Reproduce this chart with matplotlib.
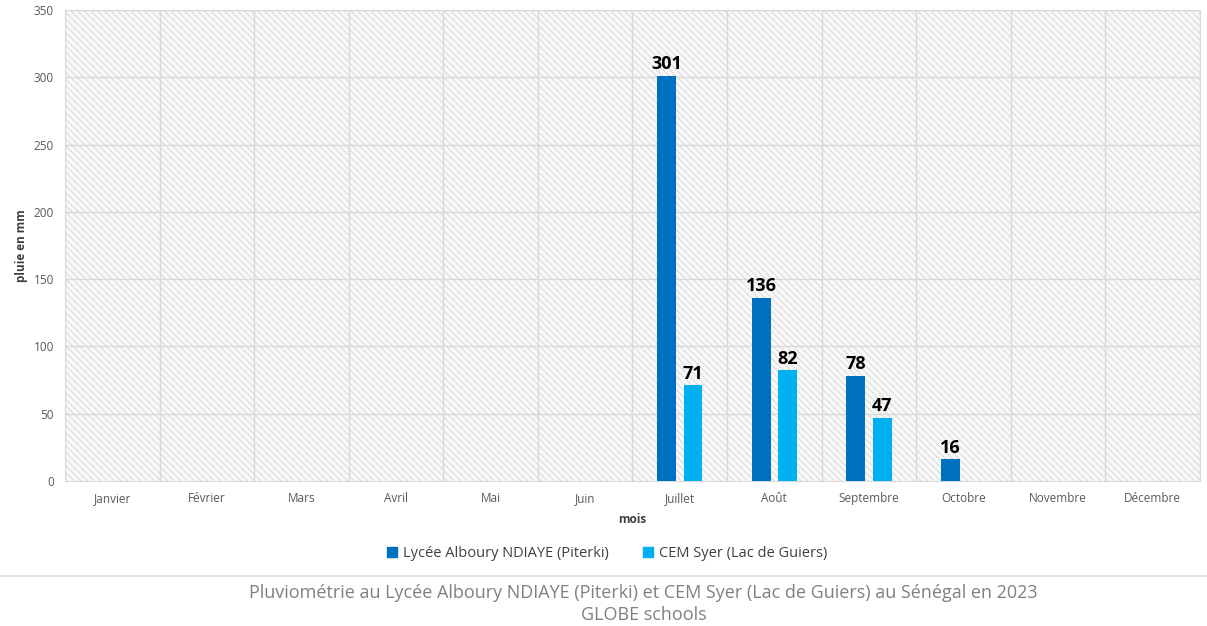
import matplotlib.pyplot as plt
import matplotlib.patches as mpatches
import numpy as np

plt.rcParams['font.family'] = ['Open Sans', 'DejaVu Sans']
plt.rcParams['hatch.linewidth'] = 0.6

months = ["Janvier", "Février", "Mars", "Avril", "Mai", "Juin", "Juillet",
          "Août", "Septembre", "Octobre", "Novembre", "Décembre"]
piterki = [0, 0, 0, 0, 0, 0, 301, 136, 78, 16, 0, 0]
syer = [0, 0, 0, 0, 0, 0, 71, 82, 47, 0, 0, 0]

series_names = ["Lycée Alboury NDIAYE (Piterki)", "CEM Syer (Lac de Guiers)"]
colors = ["#0070C0", "#00B0F0"]

fig = plt.figure(figsize=(12.07, 6.26), dpi=100)
ax = fig.add_axes([0.054, 0.232, 0.940, 0.752])

x = np.arange(len(months))
width = 0.2
offsets = [-0.14, 0.14]

# striped plot background
ax.set_facecolor("#f8f8f8")
bg = mpatches.Rectangle((0, 0), 1, 1, transform=ax.transAxes, facecolor="none",
                        edgecolor="#d4d4d4", hatch="\\" * 5, linewidth=0, zorder=0)
ax.add_patch(bg)

for vals, off, col in zip([piterki, syer], offsets, colors):
    for xi, v in zip(x, vals):
        if v <= 0:
            continue
        ax.bar(xi + off, v, width=width, color=col, zorder=3)
        ax.text(xi + off, v + 2, f"{v}", ha="center", va="bottom",
                fontsize=13, fontweight="bold", color="black", zorder=4)

ax.set_xlim(-0.5, len(months) - 0.5)
ax.set_ylim(0, 350)
ax.set_yticks(range(0, 351, 50))

# category boundaries as vertical gridlines
for b in np.arange(-0.5, len(months) + 0.5, 1):
    ax.axvline(b, color="#d9d9d9", linewidth=1, zorder=1)
for yv in range(50, 351, 50):
    ax.axhline(yv, color="#d9d9d9", linewidth=1, zorder=1)

ax.set_xticks(x)
ax.set_xticklabels(months, fontsize=8.5, color="#595959")
ax.tick_params(axis="y", labelsize=8.5, labelcolor="#595959")
ax.tick_params(length=0, pad=8)

for s in ax.spines.values():
    s.set_color("#d9d9d9")

ax.set_xlabel("mois", fontsize=8.5, fontweight="bold", color="#404040", labelpad=6)
ax.set_ylabel("pluie en mm", fontsize=8.5, fontweight="bold", color="#404040", labelpad=4)

handles = [mpatches.Patch(color=c, label=n) for c, n in zip(colors, series_names)]
fig.legend(handles=handles, loc="center", bbox_to_anchor=(0.503, 0.116), ncol=2,
           frameon=False, fontsize=10.5, handlelength=0.7, handleheight=0.7,
           handletextpad=0.4, columnspacing=2.3, labelcolor="#404040")

fig.add_artist(plt.Line2D([0, 1], [0.080, 0.080], transform=fig.transFigure,
                          color="#d9d9d9", linewidth=1.2))

fig.text(0.533, 0.052, "Pluviométrie au Lycée Alboury NDIAYE (Piterki) et CEM Syer (Lac de Guiers) au Sénégal en 2023",
         ha="center", va="center", fontsize=13, color="#808080")
fig.text(0.533, 0.017, "GLOBE schools", ha="center", va="center",
         fontsize=13, color="#808080")

fig.savefig("out.png", dpi=100)
